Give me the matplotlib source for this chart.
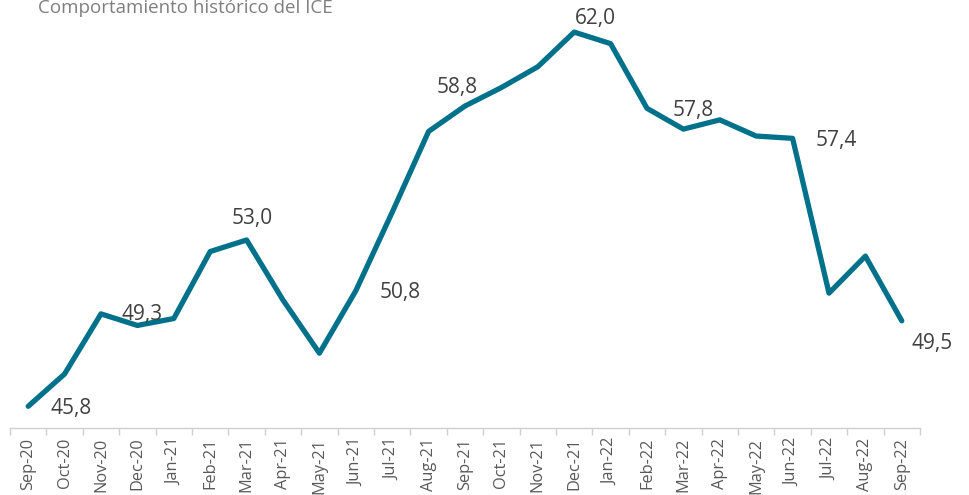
import matplotlib
matplotlib.use("Agg")
import matplotlib.pyplot as plt

months = ["Sep-20", "Oct-20", "Nov-20", "Dec-20", "Jan-21", "Feb-21", "Mar-21", "Apr-21",
          "May-21", "Jun-21", "Jul-21", "Aug-21", "Sep-21", "Oct-21", "Nov-21", "Dec-21",
          "Jan-22", "Feb-22", "Mar-22", "Apr-22", "May-22", "Jun-22", "Jul-22", "Aug-22", "Sep-22"]
ice = [45.8, 47.2, 49.8, 49.3, 49.6, 52.5, 53.0, 50.4, 48.1, 50.8, 54.2, 57.7, 58.8,
       59.6, 60.5, 62.0, 61.5, 58.7, 57.8, 58.2, 57.5, 57.4, 50.7, 52.3, 49.5]
labeled = {"Sep-20": "45,8", "Dec-20": "49,3", "Mar-21": "53,0", "Jun-21": "50,8",
           "Sep-21": "58,8", "Dec-21": "62,0", "Mar-22": "57,8", "Jun-22": "57,4",
           "Sep-22": "49,5"}
title = "Comportamiento histórico del ICE"

plt.rcParams['font.family'] = ['Open Sans', 'DejaVu Sans']

fig = plt.figure(figsize=(9.69, 4.95), dpi=100)
ax = fig.add_axes([10/969, 1-428/495, 910/969, 428/495])

x = list(range(len(months)))
ax.plot(x, ice, color="#00718A", lw=3.8, solid_joinstyle="round", solid_capstyle="round")
ax.set_xlim(-0.5, len(months) - 0.5)
ax.set_ylim(44.86, 63.39)

# label offsets in points (dx, dy)
offsets = {"Sep-20": (31, -1.4), "Dec-20": (3.6, 8), "Mar-21": (4.3, 15.8), "Jun-21": (32, -1.4),
           "Sep-21": (-5.8, 13), "Dec-21": (15, 10), "Mar-22": (7, 13.7), "Jun-22": (31.7, -1.4),
           "Sep-22": (22, -16.5)}
for i, m in enumerate(months):
    if m in labeled:
        dx, dy = offsets[m]
        ax.annotate(labeled[m], (i, ice[i]), xytext=(dx, dy), textcoords="offset points",
                    ha="center", va="center", fontsize=15, color="#404040")

ax.set_xticks(x)
ax.set_xticklabels(months, rotation=90, fontsize=11.8, color="#595959")
ax.set_xticks([i - 0.5 for i in range(len(months) + 1)], minor=True)
ax.tick_params(axis="x", which="major", length=0, pad=7)
ax.tick_params(axis="x", which="minor", length=5, color="#D0D0D0", width=1)
ax.set_yticks([])
for s in ["top", "right", "left"]:
    ax.spines[s].set_visible(False)
ax.spines["bottom"].set_color("#D0D0D0")
ax.spines["bottom"].set_linewidth(1)

fig.text(38/969, 1-13/495, title, fontsize=13.5, color="#7F7F7F", va="baseline", ha="left")

fig.savefig("out.png", dpi=100)
